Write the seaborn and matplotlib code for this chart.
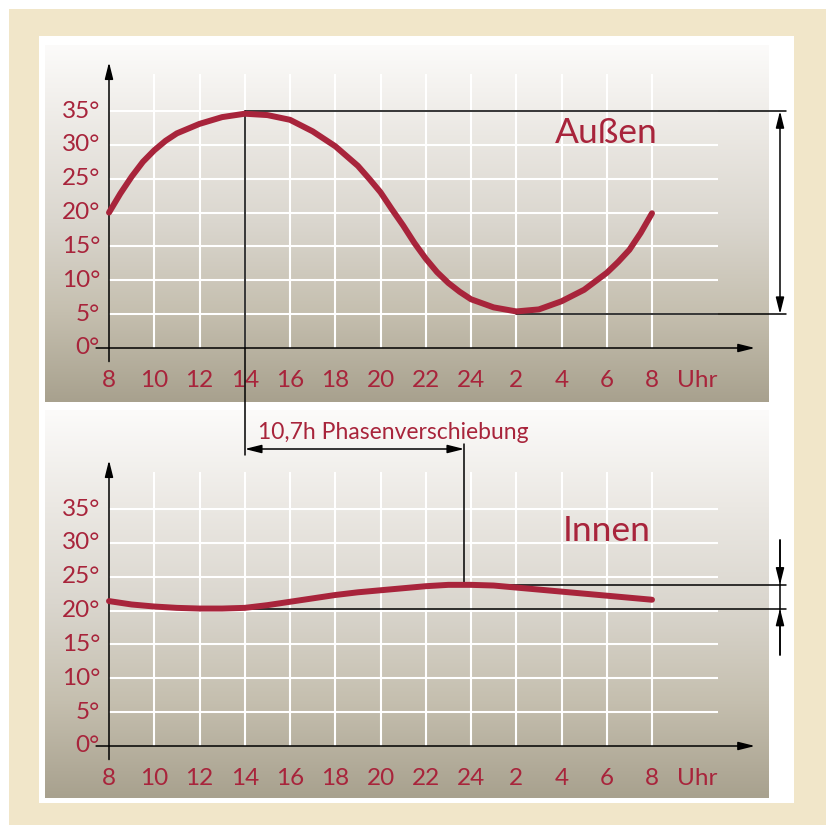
import numpy as np
import seaborn as sns
import matplotlib.pyplot as plt
from matplotlib.colors import LinearSegmentedColormap
from matplotlib.patches import Rectangle

sns.set_theme(style="white")
plt.rcParams['font.family'] = ['Lato', 'Open Sans', 'DejaVu Sans']

# data (hour of day, 8 .. 8 next morning; degrees C)
outer_hours = [8, 8.5, 9, 9.5, 10, 10.5, 11, 12, 13, 14, 15, 16, 17, 18, 19,
               19.5, 20, 20.5, 21, 21.5, 22, 22.5, 23, 23.5, 24,
               25, 26, 27, 28, 29, 30, 30.5, 31, 31.5, 32]
outer = [20.0, 22.8, 25.3, 27.5, 29.2, 30.6, 31.7, 33.1, 34.1, 34.6, 34.4, 33.7, 32.0, 29.8, 26.9,
         25.0, 23.0, 20.5, 18.1, 15.5, 13.2, 11.2, 9.6, 8.3, 7.2,
         6.0, 5.4, 5.7, 6.9, 8.6, 11.1, 12.7, 14.5, 17.0, 19.9]
inner_hours = list(range(8, 33))
inner = [21.4, 20.9, 20.6, 20.4, 20.3, 20.3, 20.4, 20.8, 21.3, 21.8, 22.3, 22.7,
         23.0, 23.3, 23.6, 23.8, 23.8, 23.7, 23.4, 23.1, 22.8, 22.5, 22.2, 21.9, 21.6]

xtick_hours = list(range(8, 33, 2))
xtick_labels = ['8', '10', '12', '14', '16', '18', '20', '22', '24', '2', '4', '6', '8']
ytick_values = [0, 5, 10, 15, 20, 25, 30, 35]
ytick_labels = [f'{v}°' for v in ytick_values]

outer_peak_hour = 14
outer_low_hour = 26
outer_hi_line = 35
outer_lo_line = 5
inner_peak_hour = 23.7
inner_hi_line = max(inner)
inner_lo_line = min(inner)
phase_text = '10,7h Phasenverschiebung'

RED = '#a8243b'
FS = 17.5
W, H = 830, 825
PX_H = 22.625   # pixels per hour
PX_D = 6.771    # pixels per degree
X0 = 109        # pixel of hour 8

fig = plt.figure(figsize=(W / 100, H / 100), dpi=100)
fig.patch.set_facecolor('white')


def frame(x0, y0, x1, y1, color, z):
    fig.add_artist(Rectangle((x0 / W, 1 - y1 / H), (x1 - x0) / W, (y1 - y0) / H,
                             transform=fig.transFigure, color=color, zorder=z, lw=0))


frame(9, 9, 826, 825, '#f1e6c9', -3)
frame(39, 36, 794, 803, 'white', -2)

cmap = LinearSegmentedColormap.from_list('panel', [
    (0.0, '#fcfbfa'), (0.25, '#ebe8e3'), (0.5, '#dad6ce'),
    (0.75, '#c5bfaf'), (1.0, '#a8a18e')])
grad = np.linspace(0, 1, 256).reshape(-1, 1)


def h(px):
    return 8 + (px - X0) / PX_H


def panel(top, bottom, axis_py, xs, values, name):
    ax = fig.add_axes([45 / W, 1 - bottom / H, (768 - 45) / W, (bottom - top) / H])
    ax.imshow(grad, extent=[0, 1, 0, 1], transform=ax.transAxes, aspect='auto',
              cmap=cmap, zorder=0, interpolation='bicubic')
    # white grid
    ax.vlines(xtick_hours[1:], 0, 40.5, color='white', lw=1.5, zorder=1)
    ax.hlines(ytick_values[1:], 8, 34.9, color='white', lw=1.5, zorder=1)
    # axes with arrows
    ap = dict(arrowstyle='-|>,head_length=1.0,head_width=0.25', color='black',
              lw=1.1, mutation_scale=10, shrinkA=0, shrinkB=0)
    ax.annotate('', xy=(36.55, 0), xytext=(7.43, 0), arrowprops=ap, zorder=3)
    ax.annotate('', xy=(8, 42.2), xytext=(8, -2.0), arrowprops=ap, zorder=3)
    for hr, lab in zip(xtick_hours, xtick_labels):
        ax.text(hr, -4.75, lab, ha='center', va='center', color=RED, fontsize=FS)
    ax.text(34, -4.75, 'Uhr', ha='center', va='center', color=RED, fontsize=FS)
    for v, lab in zip(ytick_values, ytick_labels):
        ax.text(7.6, v, lab, ha='right', va='center', color=RED, fontsize=FS)
    sns.lineplot(x=xs, y=values, ax=ax, color=RED, lw=4.3,
                 solid_capstyle='round', solid_joinstyle='round', zorder=4)
    ax.text(30, 31.8, name, ha='center', va='center', color=RED, fontsize=25.5)
    ax.set_xlim(h(45), h(768))
    ax.set_ylim((axis_py - bottom) / PX_D, (axis_py - top) / PX_D)
    ax.set_axis_off()
    return ax


ax_top = panel(45, 402, 348, outer_hours, outer, 'Außen')
ax_bot = panel(410, 798, 746, inner_hours, inner, 'Innen')
ax_top.set_zorder(1)

lk = dict(color='black', lw=1.1, clip_on=False, zorder=3)
both = dict(arrowstyle='<|-|>,head_length=1.0,head_width=0.25', color='black',
            lw=1.1, mutation_scale=10, shrinkA=0, shrinkB=0)
one = dict(arrowstyle='-|>,head_length=1.0,head_width=0.25', color='black',
           lw=1.1, mutation_scale=10, shrinkA=0, shrinkB=0)
xr = h(780)
xend = h(786)

# outer amplitude
ax_top.plot([outer_peak_hour, xend], [outer_hi_line, outer_hi_line], **lk)
ax_top.plot([outer_low_hour, xend], [outer_lo_line, outer_lo_line], **lk)
ax_top.plot([outer_peak_hour, outer_peak_hour], [outer_hi_line, (348 - 455) / PX_D], **lk)
ax_top.annotate('', xy=(xr, outer_hi_line), xytext=(xr, outer_lo_line),
                arrowprops=both, annotation_clip=False)

# inner amplitude
ax_bot.plot([inner_peak_hour, xend], [inner_hi_line, inner_hi_line], **lk)
ax_bot.plot([outer_peak_hour, xend], [inner_lo_line, inner_lo_line], **lk)
ax_bot.plot([xr, xr], [(746 - 540) / PX_D, (746 - 655) / PX_D], **lk)
ax_bot.annotate('', xy=(xr, inner_hi_line), xytext=(xr, (746 - 540) / PX_D),
                arrowprops=one, annotation_clip=False)
ax_bot.annotate('', xy=(xr, inner_lo_line), xytext=(xr, (746 - 655) / PX_D),
                arrowprops=one, annotation_clip=False)

# phase shift
y_arrow = (746 - 449) / PX_D
ax_bot.plot([inner_peak_hour, inner_peak_hour], [(746 - 444) / PX_D, inner_hi_line], **lk)
ax_bot.annotate('', xy=(inner_peak_hour, y_arrow), xytext=(outer_peak_hour, y_arrow),
                arrowprops=both, annotation_clip=False)
ax_bot.text(h(258), (746 - 432) / PX_D, phase_text, ha='left', va='center',
            color=RED, fontsize=16.5)

fig.savefig('out.png', dpi=100)
